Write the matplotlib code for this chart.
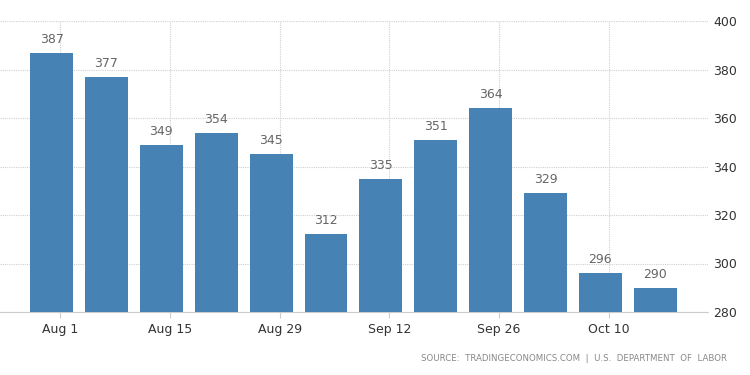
import numpy as np
from matplotlib import pyplot as plt

# weekly initial jobless claims (thousands)
values = [387, 377, 349, 354, 345, 312, 335, 351, 364, 329, 296, 290]
tick_labels = ['Aug 1', 'Aug 15', 'Aug 29', 'Sep 12', 'Sep 26', 'Oct 10']
y_ticks = [280, 300, 320, 340, 360, 380, 400]

x = np.arange(len(values))

fig = plt.figure(figsize=(7.5, 3.75), dpi=100)
ax = fig.add_axes([0.0, 0.168, 0.944, 0.776])

bars = ax.bar(x, np.array(values) - 280, bottom=280, width=0.78,
              color='#4682b4', zorder=3)
for xi, v in zip(x, values):
    ax.annotate(str(v), (xi, v), xytext=(0, 5), textcoords='offset points',
                ha='center', va='bottom', fontsize=9, color='#666666')

ax.set_xlim(-0.94, 11.96)
ax.set_ylim(280, 400)

tick_pos = x[::2] + 0.155
ax.set_xticks(tick_pos)
ax.set_xticklabels(tick_labels, fontsize=9, color='#333333')
ax.set_yticks(y_ticks)
ax.yaxis.tick_right()
ax.tick_params(axis='y', length=0, pad=4, labelsize=9, labelcolor='#333333')
ax.tick_params(axis='x', length=4, color='#cccccc', pad=4)

ax.grid(True, color='#d0d0d0', linestyle=(0, (1, 1)), linewidth=0.8, zorder=0)
for s in ['top', 'right', 'left']:
    ax.spines[s].set_visible(False)
ax.spines['bottom'].set_color('#cccccc')
ax.spines['bottom'].set_linestyle((0, (1, 1)))

fig.text(0.969, 0.043, 'SOURCE:  TRADINGECONOMICS.COM  |  U.S.  DEPARTMENT  OF  LABOR',
         ha='right', va='center', fontsize=6.2, color='#888888')

plt.savefig('out.png', dpi=100)
